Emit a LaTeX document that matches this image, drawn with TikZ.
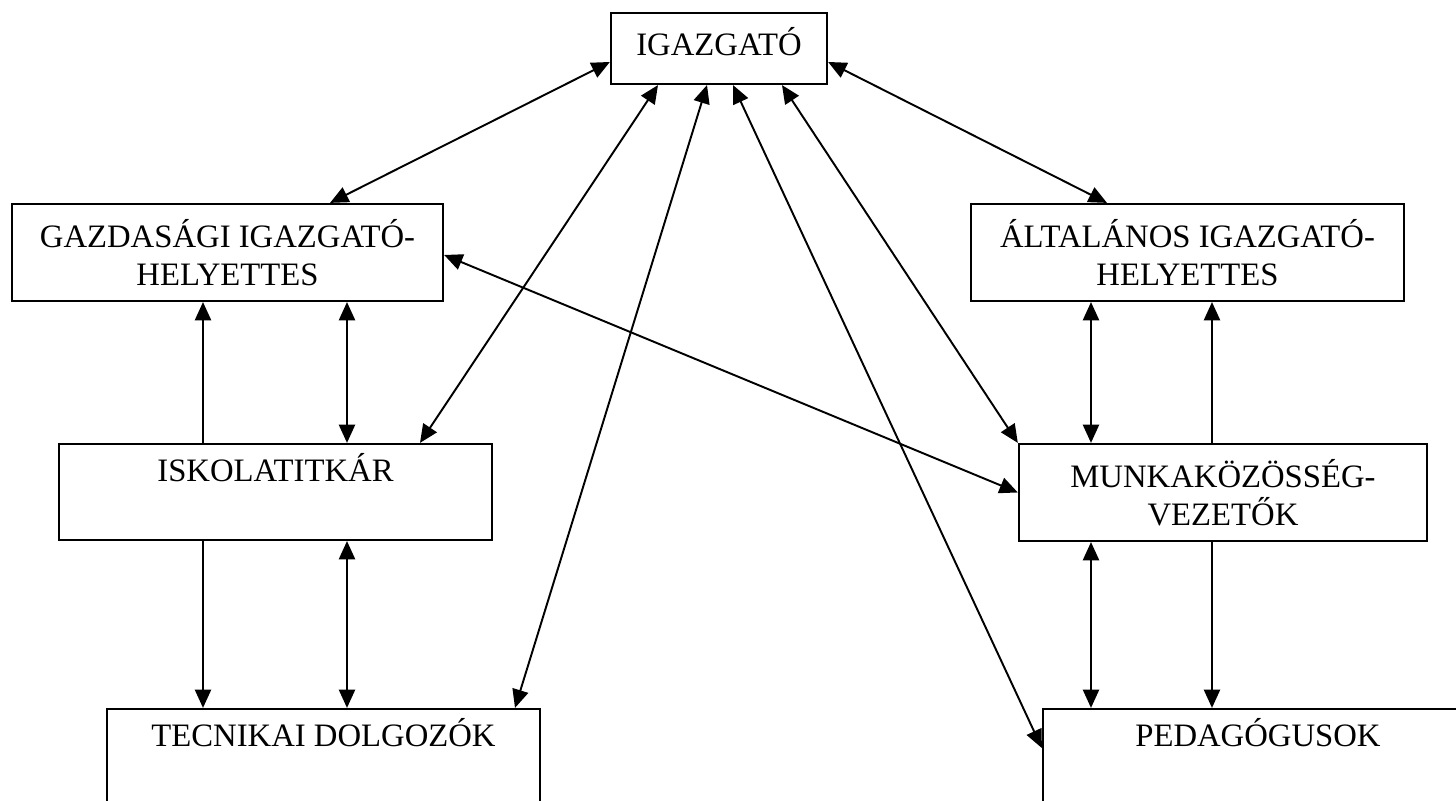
\documentclass[tikz,border=0pt]{standalone}
\usepackage{fontspec}
\setmainfont{Liberation Serif}
\usetikzlibrary{calc, arrows.meta}

\begin{document}
\begin{tikzpicture}[x=0.01cm, y=-0.01cm,
    unit/.style={draw, line width=0.6pt, align=center, inner sep=0pt,
      minimum height=0.97cm, font=\fontsize{9.3pt}{10.8pt}\selectfont},
    link/.style={{Triangle[length=5.2pt,width=4.6pt]}-{Triangle[length=5.2pt,width=4.6pt]}, line width=0.55pt},
    feed/.style={-{Triangle[length=5.2pt,width=4.6pt]}, line width=0.55pt}]
  \useasboundingbox (0,0) rectangle (1456,801);
  \clip (0,0) rectangle (1456,801);
  % Columns of the vertical links
  \coordinate (c1) at (203,0);
  \coordinate (c2) at (347,0);
  \coordinate (c3) at (1091,0);
  \coordinate (c4) at (1212,0);
  % Boxes
  \node[unit, minimum width=2.16cm, minimum height=0.71cm, text depth=4pt] (igazgato) at (719,48.5) {IGAZGATÓ};
  \node[unit, minimum width=4.31cm] (gazdasagi) at (227.5,252.5) {GAZDASÁGI IGAZGATÓ-\\HELYETTES};
  \node[unit, minimum width=4.33cm] (altalanos) at (1187.5,252.5) {ÁLTALÁNOS IGAZGATÓ-\\HELYETTES};
  \node[unit, minimum width=4.33cm, minimum height=0.96cm] (titkar) at (275.5,492) {ISKOLATITKÁR\\\strut};
  \node[unit, minimum width=4.08cm] (munkakozosseg) at (1223,492.5) {MUNKAKÖZÖSSÉG-\\VEZETŐK};
  \node[unit, minimum width=4.33cm] (technikai) at (323.5,757.5) {TECNIKAI DOLGOZÓK\\\strut};
  \node[unit, minimum width=4.30cm] (pedagogus) at (1258,757.5) {PEDAGÓGUSOK\\\strut};
  % Links from the director
  \draw[link] ($(igazgato.west)+(0,13.5)$) -- ($(gazdasagi.north)+(102.5,0)$);
  \draw[link] ($(igazgato.east)+(0,13.5)$) -- ($(altalanos.north)+(-80.5,0)$);
  \draw[link] ($(igazgato.south)+(-61,0)$) -- ($(titkar.north)+(144.5,0)$);
  \draw[link] ($(igazgato.south)+(-12,0)$) -- ($(technikai.north)+(191.5,0)$);
  \draw[link] ($(igazgato.south)+(14,0)$) -- ($(pedagogus.west)+(0,-9.5)$);
  \draw[link] ($(igazgato.south)+(63,0)$) -- (munkakozosseg.north west);
  \draw[link] ($(gazdasagi.east)+(0,2.5)$) -- (munkakozosseg.west);
  % Left column
  \draw[feed] (titkar.north -| c1) -- (gazdasagi.south -| c1);
  \draw[link] (gazdasagi.south -| c2) -- (titkar.north -| c2);
  \draw[feed] (titkar.south -| c1) -- (technikai.north -| c1);
  \draw[link] (titkar.south -| c2) -- (technikai.north -| c2);
  % Right column
  \draw[link] (altalanos.south -| c3) -- (munkakozosseg.north -| c3);
  \draw[feed] (munkakozosseg.north -| c4) -- (altalanos.south -| c4);
  \draw[link] (munkakozosseg.south -| c3) -- (pedagogus.north -| c3);
  \draw[feed] (munkakozosseg.south -| c4) -- (pedagogus.north -| c4);
\end{tikzpicture}
\end{document}
